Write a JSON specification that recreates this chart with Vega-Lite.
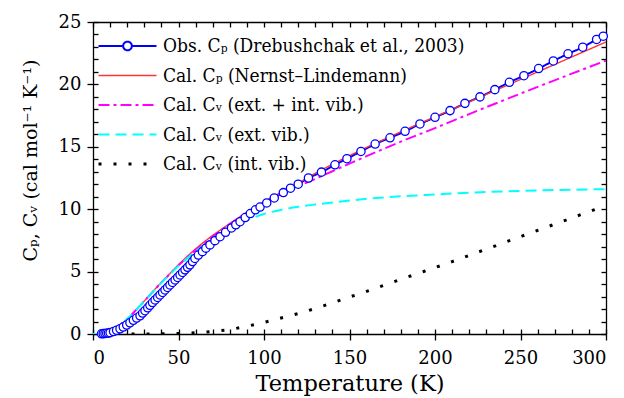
{
  "$schema": "https://vega.github.io/schema/vega-lite/v6.json",
  "width": 513,
  "height": 312,
  "autosize": "none",
  "padding": {"left": 93, "top": 22, "right": 18, "bottom": 64},
  "background": "white",
  "config": {
    "view": {"stroke": null},
    "font": "DejaVu Serif",
    "axis": {"grid": false, "domainColor": "black", "domainWidth": 1.3, "tickColor": "black", "tickWidth": 1.3, "labelColor": "black", "titleColor": "black", "labelFont": "DejaVu Serif", "titleFont": "DejaVu Serif", "titleFontWeight": "normal"}
  },
  "data": {"values": [
    {"s":"obs","T":5,"C":0.02},{"s":"obs","T":6,"C":0.03},{"s":"obs","T":7,"C":0.04},{"s":"obs","T":8,"C":0.06},{"s":"obs","T":9,"C":0.08},{"s":"obs","T":10,"C":0.11},{"s":"obs","T":12,"C":0.2},{"s":"obs","T":13.8,"C":0.3},{"s":"obs","T":15.8,"C":0.42},{"s":"obs","T":17.7,"C":0.56},{"s":"obs","T":19.7,"C":0.72},{"s":"obs","T":21.6,"C":0.9},{"s":"obs","T":23.6,"C":1.1},{"s":"obs","T":25.5,"C":1.28},{"s":"obs","T":27.5,"C":1.46},{"s":"obs","T":29,"C":1.68},{"s":"obs","T":30.4,"C":1.87},{"s":"obs","T":32,"C":2.1},{"s":"obs","T":33.3,"C":2.3},{"s":"obs","T":34.8,"C":2.52},{"s":"obs","T":36.3,"C":2.73},{"s":"obs","T":37.8,"C":2.93},{"s":"obs","T":39.2,"C":3.13},{"s":"obs","T":40.7,"C":3.33},{"s":"obs","T":42.1,"C":3.53},{"s":"obs","T":43.6,"C":3.73},{"s":"obs","T":45,"C":3.93},{"s":"obs","T":46.5,"C":4.13},{"s":"obs","T":48,"C":4.33},{"s":"obs","T":49.5,"C":4.53},{"s":"obs","T":50.9,"C":4.73},{"s":"obs","T":52.4,"C":4.93},{"s":"obs","T":53.8,"C":5.14},{"s":"obs","T":55.3,"C":5.34},{"s":"obs","T":56.7,"C":5.54},{"s":"obs","T":58.2,"C":5.8},{"s":"obs","T":59.6,"C":6.05},{"s":"obs","T":61.6,"C":6.33},{"s":"obs","T":64,"C":6.6},{"s":"obs","T":66,"C":6.88},{"s":"obs","T":68.4,"C":7.14},{"s":"obs","T":71.3,"C":7.48},{"s":"obs","T":74.3,"C":7.8},{"s":"obs","T":77.5,"C":8.15},{"s":"obs","T":81,"C":8.5},{"s":"obs","T":83.5,"C":8.75},{"s":"obs","T":86,"C":9.0},{"s":"obs","T":89,"C":9.33},{"s":"obs","T":92,"C":9.65},{"s":"obs","T":95,"C":9.95},{"s":"obs","T":97.7,"C":10.17},{"s":"obs","T":101.6,"C":10.5},{"s":"obs","T":106,"C":10.9},{"s":"obs","T":111.3,"C":11.33},{"s":"obs","T":115.5,"C":11.68},{"s":"obs","T":120,"C":12.0},{"s":"obs","T":126,"C":12.5},{"s":"obs","T":133.6,"C":12.97},{"s":"obs","T":141.5,"C":13.56},{"s":"obs","T":148.5,"C":14.05},{"s":"obs","T":156.7,"C":14.63},{"s":"obs","T":165,"C":15.22},{"s":"obs","T":173.7,"C":15.72},{"s":"obs","T":182.5,"C":16.24},{"s":"obs","T":191.2,"C":16.83},{"s":"obs","T":200,"C":17.36},{"s":"obs","T":208.8,"C":17.9},{"s":"obs","T":217.5,"C":18.48},{"s":"obs","T":226.3,"C":19.0},{"s":"obs","T":235,"C":19.58},{"s":"obs","T":243.5,"C":20.17},{"s":"obs","T":252,"C":20.7},{"s":"obs","T":260.6,"C":21.27},{"s":"obs","T":269.2,"C":21.88},{"s":"obs","T":277.8,"C":22.45},{"s":"obs","T":286.4,"C":22.98},{"s":"obs","T":294.5,"C":23.6},{"s":"obs","T":298.4,"C":23.86},

    {"s":"nl","T":0,"C":0},{"s":"nl","T":5,"C":0.03},{"s":"nl","T":10,"C":0.28},{"s":"nl","T":15,"C":0.65},{"s":"nl","T":20,"C":1.2},{"s":"nl","T":25,"C":1.9},{"s":"nl","T":30,"C":2.65},{"s":"nl","T":35,"C":3.4},{"s":"nl","T":40,"C":4.15},{"s":"nl","T":45,"C":4.85},{"s":"nl","T":50,"C":5.55},{"s":"nl","T":55,"C":6.2},{"s":"nl","T":60,"C":6.82},{"s":"nl","T":65,"C":7.38},{"s":"nl","T":70,"C":7.9},{"s":"nl","T":75,"C":8.38},{"s":"nl","T":80,"C":8.85},{"s":"nl","T":90,"C":9.75},{"s":"nl","T":100,"C":10.6},{"s":"nl","T":110,"C":11.35},{"s":"nl","T":120,"C":12.1},{"s":"nl","T":130,"C":12.87},{"s":"nl","T":140,"C":13.6},{"s":"nl","T":160,"C":14.95},{"s":"nl","T":180,"C":16.2},{"s":"nl","T":200,"C":17.4},{"s":"nl","T":220,"C":18.6},{"s":"nl","T":240,"C":19.8},{"s":"nl","T":260,"C":21.0},{"s":"nl","T":280,"C":22.2},{"s":"nl","T":300,"C":23.4},

    {"s":"extint","T":0,"C":0},{"s":"extint","T":5,"C":0.03},{"s":"extint","T":10,"C":0.28},{"s":"extint","T":15,"C":0.65},{"s":"extint","T":20,"C":1.2},{"s":"extint","T":25,"C":1.9},{"s":"extint","T":30,"C":2.64},{"s":"extint","T":35,"C":3.38},{"s":"extint","T":40,"C":4.12},{"s":"extint","T":45,"C":4.81},{"s":"extint","T":50,"C":5.5},{"s":"extint","T":55,"C":6.12},{"s":"extint","T":60,"C":6.72},{"s":"extint","T":65,"C":7.26},{"s":"extint","T":70,"C":7.8},{"s":"extint","T":75,"C":8.32},{"s":"extint","T":80,"C":8.81},{"s":"extint","T":90,"C":9.72},{"s":"extint","T":100,"C":10.55},{"s":"extint","T":110,"C":11.23},{"s":"extint","T":120,"C":11.84},{"s":"extint","T":130,"C":12.43},{"s":"extint","T":140,"C":13.04},{"s":"extint","T":160,"C":14.25},{"s":"extint","T":180,"C":15.41},{"s":"extint","T":200,"C":16.5},{"s":"extint","T":220,"C":17.62},{"s":"extint","T":240,"C":18.72},{"s":"extint","T":260,"C":19.8},{"s":"extint","T":280,"C":20.86},{"s":"extint","T":300,"C":21.91},

    {"s":"ext","T":0,"C":0},{"s":"ext","T":5,"C":0.03},{"s":"ext","T":10,"C":0.28},{"s":"ext","T":15,"C":0.65},{"s":"ext","T":20,"C":1.2},{"s":"ext","T":25,"C":1.9},{"s":"ext","T":30,"C":2.63},{"s":"ext","T":35,"C":3.37},{"s":"ext","T":40,"C":4.1},{"s":"ext","T":45,"C":4.78},{"s":"ext","T":50,"C":5.45},{"s":"ext","T":55,"C":6.05},{"s":"ext","T":60,"C":6.62},{"s":"ext","T":65,"C":7.12},{"s":"ext","T":70,"C":7.6},{"s":"ext","T":75,"C":8.05},{"s":"ext","T":80,"C":8.45},{"s":"ext","T":90,"C":9.1},{"s":"ext","T":100,"C":9.62},{"s":"ext","T":110,"C":9.95},{"s":"ext","T":120,"C":10.2},{"s":"ext","T":130,"C":10.38},{"s":"ext","T":140,"C":10.54},{"s":"ext","T":160,"C":10.83},{"s":"ext","T":180,"C":11.03},{"s":"ext","T":200,"C":11.18},{"s":"ext","T":220,"C":11.32},{"s":"ext","T":240,"C":11.42},{"s":"ext","T":260,"C":11.5},{"s":"ext","T":280,"C":11.56},{"s":"ext","T":300,"C":11.61},

    {"s":"int","T":5,"C":0},{"s":"int","T":10,"C":0},{"s":"int","T":20,"C":0},{"s":"int","T":30,"C":0.005},{"s":"int","T":40,"C":0.02},{"s":"int","T":50,"C":0.05},{"s":"int","T":60,"C":0.1},{"s":"int","T":70,"C":0.2},{"s":"int","T":80,"C":0.36},{"s":"int","T":90,"C":0.62},{"s":"int","T":100,"C":0.93},{"s":"int","T":110,"C":1.28},{"s":"int","T":120,"C":1.64},{"s":"int","T":130,"C":2.05},{"s":"int","T":140,"C":2.5},{"s":"int","T":150,"C":2.96},{"s":"int","T":160,"C":3.42},{"s":"int","T":170,"C":3.9},{"s":"int","T":180,"C":4.38},{"s":"int","T":190,"C":4.85},{"s":"int","T":200,"C":5.32},{"s":"int","T":210,"C":5.8},{"s":"int","T":220,"C":6.3},{"s":"int","T":230,"C":6.8},{"s":"int","T":240,"C":7.3},{"s":"int","T":250,"C":7.8},{"s":"int","T":260,"C":8.3},{"s":"int","T":270,"C":8.8},{"s":"int","T":280,"C":9.3},{"s":"int","T":290,"C":9.8},{"s":"int","T":300,"C":10.3}
  ]},
  "resolve": {"axis": {"x": "independent", "y": "independent"}},
  "layer": [
    {
      "mark": {"type": "line", "interpolate": "monotone", "clip": true},
      "encoding": {
        "x": {"field": "T", "type": "quantitative", "scale": {"domain": [0, 300], "nice": false},
          "axis": {"orient": "bottom", "values": [0, 50, 100, 150, 200, 250, 300], "tickSize": 6, "labelFontSize": 18, "labelPadding": 9, "title": "Temperature (K)", "titleFontSize": 22.5, "titlePadding": 5}},
        "y": {"field": "C", "type": "quantitative", "scale": {"domain": [0, 25], "nice": false},
          "axis": {"orient": "left", "values": [0, 5, 10, 15, 20, 25], "tickSize": 6, "labelFontSize": 18, "labelPadding": 6, "title": "Cₚ, Cᵥ (cal mol⁻¹ K⁻¹)", "titleFontSize": 19, "titleX": -63, "titleY": 138, "titleBaseline": "middle"}},
        "color": {"field": "s", "type": "nominal",
          "scale": {"domain": ["obs", "nl", "extint", "ext", "int"], "range": ["#0000ff", "#ff3333", "#ff00ff", "#00ffff", "#000000"]},
          "legend": {"orient": "none", "legendX": 4, "legendY": 14, "padding": 0, "title": null, "symbolType": "stroke", "symbolSize": 3364, "symbolStrokeWidth": 2, "clipHeight": 20, "rowPadding": 9.5, "labelFont": "DejaVu Serif Condensed", "labelFontSize": 19, "labelColor": "black", "labelOffset": 5, "labelLimit": 400,
            "labelExpr": "datum.value === 'obs' ? 'Obs. Cₚ (Drebushchak et al., 2003)' : datum.value === 'nl' ? 'Cal. Cₚ (Nernst–Lindemann)' : datum.value === 'extint' ? 'Cal. Cᵥ (ext. + int. vib.)' : datum.value === 'ext' ? 'Cal. Cᵥ (ext. vib.)' : 'Cal. Cᵥ (int. vib.)'",
            "encode": {"symbols": {"update": {
              "shape": {"signal": "datum.value === 'obs' ? 'M-1,0H-0.15M0.15,0H1M0.15,0A0.15,0.15 0 1,1 -0.15,0A0.15,0.15 0 1,1 0.15,0' : 'stroke'"},
              "fill": {"signal": "datum.value === 'obs' ? 'white' : 'transparent'"},
              "strokeWidth": {"signal": "datum.value === 'nl' ? 1.5 : datum.value === 'int' ? 3 : 2"}
            }}}}},
        "strokeDash": {"field": "s", "type": "nominal",
          "scale": {"domain": ["obs", "nl", "extint", "ext", "int"], "range": [[1, 0], [1, 0], [11, 4, 3, 4], [11, 6], [3, 12]]}},
        "strokeWidth": {"field": "s", "type": "ordinal",
          "scale": {"type": "ordinal", "domain": ["obs", "nl", "extint", "ext", "int"], "range": [2, 1.4, 2, 2, 3]}, "legend": null}
      }
    },
    {
      "transform": [{"filter": "datum.s === 'obs'"}],
      "mark": {"type": "point", "shape": "circle", "filled": true, "fill": "white", "stroke": "#0000ff", "strokeWidth": 1.3, "size": 68, "opacity": 1},
      "encoding": {
        "x": {"field": "T", "type": "quantitative",
          "axis": {"orient": "bottom", "values": [0,10,20,30,40,50,60,70,80,90,100,110,120,130,140,150,160,170,180,190,200,210,220,230,240,250,260,270,280,290,300], "tickSize": -5, "labels": false, "domain": false, "title": null}},
        "y": {"field": "C", "type": "quantitative",
          "axis": {"orient": "left", "values": [0,1,2,3,4,5,6,7,8,9,10,11,12,13,14,15,16,17,18,19,20,21,22,23,24,25], "tickSize": -5, "labels": false, "domain": false, "title": null}}
      }
    },
    {
      "transform": [{"filter": "datum.s === 'int'"}],
      "mark": {"type": "point", "opacity": 0},
      "encoding": {
        "x": {"field": "T", "type": "quantitative",
          "axis": {"orient": "top", "values": [0,10,20,30,40,50,60,70,80,90,100,110,120,130,140,150,160,170,180,190,200,210,220,230,240,250,260,270,280,290,300], "tickSize": -5, "labels": false, "title": null}},
        "y": {"field": "C", "type": "quantitative",
          "axis": {"orient": "right", "values": [0,1,2,3,4,5,6,7,8,9,10,11,12,13,14,15,16,17,18,19,20,21,22,23,24,25], "tickSize": -5, "labels": false, "title": null}}
      }
    }
  ]
}
